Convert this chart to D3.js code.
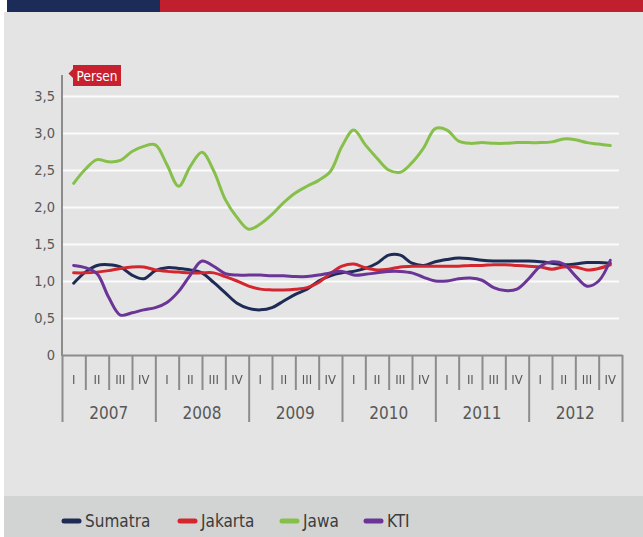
<!DOCTYPE html>
<html>
<head>
<meta charset="utf-8">
<script src="https://cdn.jsdelivr.net/npm/d3@7"></script>
<style>
  html, body { margin: 0; padding: 0; background: #fff; }
  svg { display: block; }
  text { font-family: "DejaVu Sans Condensed", "DejaVu Sans", sans-serif; }
</style>
</head>
<body>
<svg id="chart" width="643" height="537"></svg>
<script>
// Quarterly axis: six years, four quarters each
const years = ["2007", "2008", "2009", "2010", "2011", "2012"];
const quarterLabels = ["I", "II", "III", "IV"];

// Y axis ticks (percent), Indonesian decimal comma
const yTicks = [0, 0.5, 1, 1.5, 2, 2.5, 3, 3.5];
const yTickLabels = ["0", "0,5", "1,0", "1,5", "2,0", "2,5", "3,0", "3,5"];

// Observations every half quarter, from Q1 2007 to Q4 2012 (percent)
const stepsPerQuarter = 2;
const seriesNames = ["Sumatra", "Jakarta", "Jawa", "KTI"];

const sumatra = [0.97, 1.12, 1.21, 1.22, 1.19, 1.08, 1.03, 1.14, 1.18, 1.17,
                 1.15, 1.11, 0.98, 0.84, 0.70, 0.63, 0.61, 0.64, 0.73, 0.82,
                 0.89, 1.00, 1.07, 1.11, 1.13, 1.17, 1.24, 1.35, 1.35, 1.24,
                 1.21, 1.26, 1.29, 1.31, 1.30, 1.28, 1.27, 1.27, 1.27, 1.27,
                 1.26, 1.24, 1.22, 1.23, 1.25, 1.25, 1.24];

const jakarta = [1.11, 1.11, 1.12, 1.14, 1.17, 1.19, 1.19, 1.15, 1.13, 1.12,
                 1.11, 1.11, 1.11, 1.06, 1.00, 0.93, 0.89, 0.88, 0.88, 0.89,
                 0.91, 0.98, 1.10, 1.20, 1.23, 1.18, 1.15, 1.16, 1.19, 1.20,
                 1.20, 1.20, 1.20, 1.20, 1.21, 1.21, 1.22, 1.22, 1.21, 1.20,
                 1.19, 1.16, 1.19, 1.19, 1.15, 1.17, 1.22];

const jawa = [2.32, 2.51, 2.64, 2.61, 2.63, 2.75, 2.82, 2.84, 2.57, 2.28,
              2.55, 2.74, 2.49, 2.10, 1.86, 1.70, 1.77, 1.90, 2.06, 2.19,
              2.28, 2.36, 2.48, 2.82, 3.04, 2.84, 2.66, 2.50, 2.47, 2.60,
              2.80, 3.06, 3.04, 2.89, 2.86, 2.87, 2.86, 2.86, 2.87, 2.87,
              2.87, 2.88, 2.92, 2.91, 2.87, 2.85, 2.83];

const kti = [1.21, 1.18, 1.10, 0.78, 0.54, 0.57, 0.61, 0.64, 0.71, 0.86,
             1.08, 1.27, 1.20, 1.10, 1.08, 1.08, 1.08, 1.07, 1.07, 1.06,
             1.06, 1.08, 1.11, 1.13, 1.08, 1.09, 1.11, 1.13, 1.13, 1.11,
             1.05, 1.00, 1.00, 1.03, 1.04, 1.01, 0.91, 0.87, 0.89, 1.03,
             1.20, 1.26, 1.23, 1.07, 0.93, 1.00, 1.28];

const seriesColors = ["#1d2b55", "#d3262f", "#86c04a", "#6a3597"];

const svg = d3.select("#chart");

// Identity filter: renders text through an offscreen buffer (greyscale smoothing)
svg.append("defs").append("filter")
  .attr("id", "flat")
  .attr("x", 0).attr("y", 0).attr("width", 1).attr("height", 1)
  .append("feOffset").attr("dx", 0).attr("dy", 0);

// Page background, header bar and legend band
svg.append("rect").attr("width", 643).attr("height", 537).attr("fill", "#ffffff");
svg.append("rect").attr("x", 4).attr("y", 12).attr("width", 639).attr("height", 525).attr("fill", "#e4e4e4");
svg.append("rect").attr("x", 7).attr("y", 0).attr("width", 153).attr("height", 12).attr("fill", "#1c2c58");
svg.append("rect").attr("x", 160).attr("y", 0).attr("width", 483).attr("height", 12).attr("fill", "#c01f2e");
svg.append("rect").attr("x", 4).attr("y", 496).attr("width", 639).attr("height", 41).attr("fill", "#d2d4d4");

// Scales: x in quarter units, y in percent
const nQuarters = years.length * quarterLabels.length;
const x = d3.scaleLinear().domain([0, nQuarters]).range([62, 622]);
const y = d3.scaleLinear().domain([0, 3.5]).range([355, 96]);

const axisColor = "#8c8c8c";
const labelColor = "#585858";

// Horizontal gridlines
const grid = svg.append("g")
  .attr("transform", `translate(${x(0)},0)`)
  .call(d3.axisLeft(y).tickValues(yTicks.filter(v => v > 0)).tickSize(-(619 - x(0))).tickFormat(""));
grid.select(".domain").remove();
grid.selectAll(".tick line").attr("stroke", "#fbfbfb").attr("stroke-width", 2);

// Y tick labels
const yAxis = svg.append("g")
  .attr("transform", `translate(${x(0)},0)`)
  .call(d3.axisLeft(y).tickValues(yTicks).tickSize(0).tickPadding(7)
        .tickFormat((d, i) => yTickLabels[i]));
yAxis.select(".domain").remove();
yAxis.selectAll("text")
  .attr("fill", labelColor)
  .style("font-size", "14.5px");

// Y axis line
svg.append("line")
  .attr("x1", x(0)).attr("x2", x(0))
  .attr("y1", 75).attr("y2", y(0) + 1)
  .attr("stroke", axisColor).attr("stroke-width", 2);

// "Persen" unit tag
const tag = svg.append("g");
tag.append("path")
  .attr("d", "M73,65 H121 V86 H73 V78 L68.5,73.5 L73,69 Z")
  .attr("fill", "#c8202f");
tag.append("text")
  .attr("x", 97).attr("y", 80.5)
  .attr("text-anchor", "middle")
  .attr("fill", "#ffffff")
  .style("font-size", "13.5px")
  .text("Persen");

// X axis: quarter boundaries (short) and year boundaries (long)
const quarterBounds = d3.range(0, nQuarters + 1).filter(q => q % 4 !== 0);
const yearBounds = d3.range(0, nQuarters + 1, 4);

const qAxis = svg.append("g")
  .attr("transform", `translate(0,${y(0)})`)
  .call(d3.axisBottom(x).tickValues(quarterBounds).tickSize(35).tickSizeOuter(0).tickFormat(""));
qAxis.select(".domain").attr("stroke", axisColor).attr("stroke-width", 2);
qAxis.selectAll(".tick line").attr("stroke", axisColor).attr("stroke-width", 2);

const yrAxis = svg.append("g")
  .attr("transform", `translate(0,${y(0)})`)
  .call(d3.axisBottom(x).tickValues(yearBounds).tickSize(67).tickFormat(""));
yrAxis.select(".domain").remove();
yrAxis.selectAll(".tick line").attr("stroke", axisColor).attr("stroke-width", 2);

// Quarter and year labels
const quarterCells = d3.range(nQuarters).map(q => ({ q, label: quarterLabels[q % 4] }));
svg.append("g")
  .attr("filter", "url(#flat)")
  .selectAll("text")
  .data(quarterCells).join("text")
  .attr("x", d => x(d.q + 0.5))
  .attr("y", 384)
  .attr("text-anchor", "middle")
  .attr("fill", labelColor)
  .style("font-size", "13px")
  .text(d => d.label);

svg.append("g").selectAll("text")
  .data(years).join("text")
  .attr("x", (d, i) => x(i * 4 + 2))
  .attr("y", 419)
  .attr("text-anchor", "middle")
  .attr("fill", labelColor)
  .style("font-size", "17px")
  .text(d => d);

// Series lines
const seriesData = [sumatra, jakarta, jawa, kti];
const line = d3.line()
  .x((d, i) => x(0.5 + i / stepsPerQuarter))
  .y(d => y(d))
  .curve(d3.curveCatmullRom.alpha(0.5));

svg.append("g").selectAll("path")
  .data(seriesData).join("path")
  .attr("d", d => line(d))
  .attr("fill", "none")
  .attr("stroke", (d, i) => seriesColors[i])
  .attr("stroke-width", 3)
  .attr("stroke-linejoin", "round")
  .attr("stroke-linecap", "round");

// Legend: swatch start positions along the band
const legendX = [62, 178, 280, 364];
const legend = svg.append("g").attr("transform", "translate(0,521)");
seriesNames.forEach((name, i) => {
  const item = legend.append("g").attr("transform", `translate(${legendX[i]},0)`);
  item.append("line")
    .attr("x1", 2).attr("x2", 17).attr("y1", 0).attr("y2", 0)
    .attr("stroke", seriesColors[i]).attr("stroke-width", 5)
    .attr("stroke-linecap", "round");
  item.append("text")
    .attr("x", 23).attr("y", 6)
    .attr("fill", "#3c3c3c")
    .style("font-size", "17px")
    .text(name);
});
</script>
</body>
</html>
